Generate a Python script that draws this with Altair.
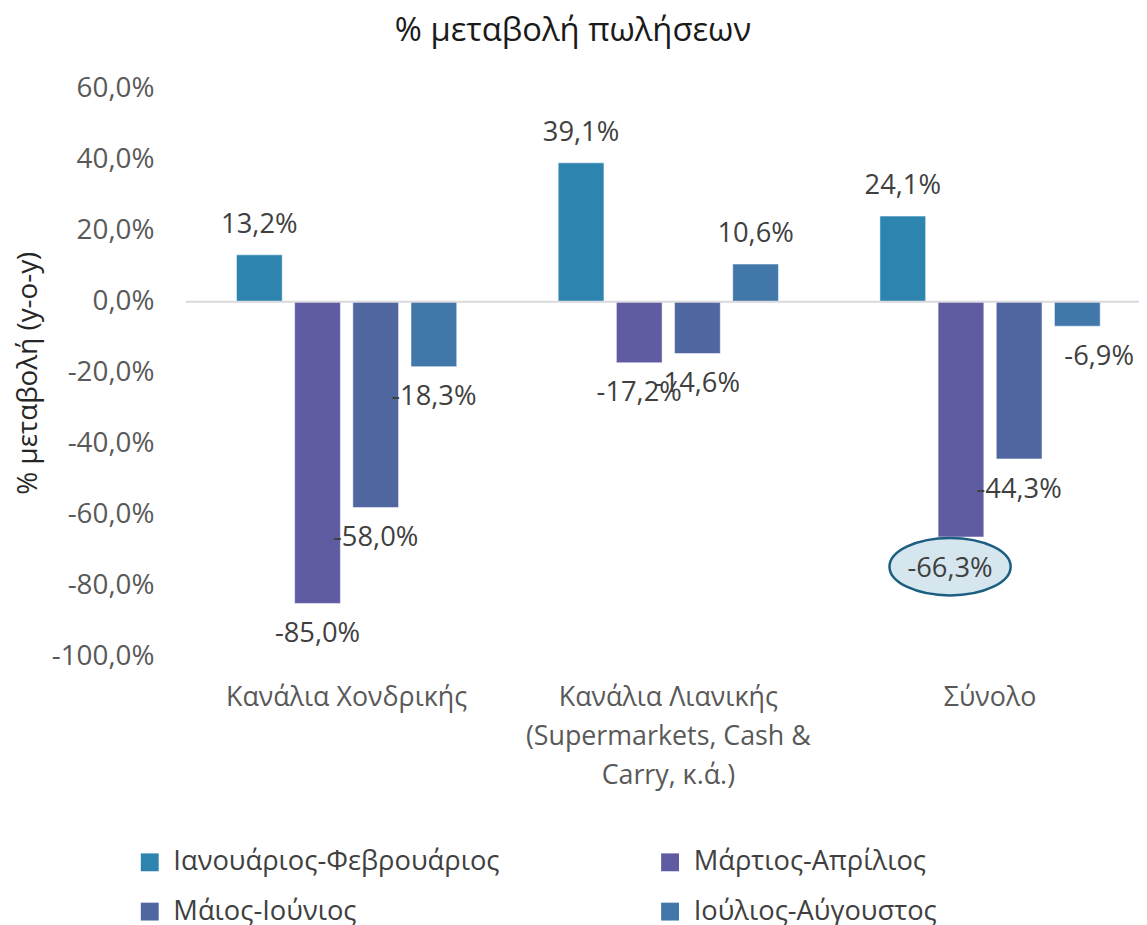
import altair as alt
import pandas as pd

groups = ["Κανάλια Χονδρικής",
          "Κανάλια Λιανικής\n(Supermarkets, Cash &\nCarry, κ.ά.)",
          "Σύνολο"]
periods = ["Ιανουάριος-Φεβρουάριος", "Μάρτιος-Απρίλιος", "Μάιος-Ιούνιος", "Ιούλιος-Αύγουστος"]
colors = ["#2C84AF", "#5F5BA3", "#5066A1", "#4277AA"]

v_wholesale = [13.2, -85.0, -58.0, -18.3]
v_retail = [39.1, -17.2, -14.6, 10.6]
v_total = [24.1, -66.3, -44.3, -6.9]

rows = []
for g, vals in zip(groups, [v_wholesale, v_retail, v_total]):
    for p, v in zip(periods, vals):
        rows.append({"group": g, "period": p, "value": v})
df = pd.DataFrame(rows)

FONT = "Open Sans"
fmt = "replace(replace(format(datum.value, '.1f'), '.', ','), '\u2212', '-') + '%'"

x_enc = alt.X("group:N", sort=groups, title=None,
              scale=alt.Scale(range=[0, 972], paddingInner=0, paddingOuter=0),
              axis=alt.Axis(labelExpr="split(datum.label, '\\n')", labelAngle=0,
                            labelFontSize=27, labelFont=FONT, labelColor="#595959",
                            labelPadding=28, labelLineHeight=39.5, labelBaseline="top",
                            labelLimit=600,
                            domain=False, ticks=False, grid=False))
xo_enc = alt.XOffset("period:N", sort=periods,
                     scale=alt.Scale(paddingInner=0.214, paddingOuter=0.872))
y_enc = alt.Y("value:Q", title="% μεταβολή (y-o-y)",
              scale=alt.Scale(domain=[-100, 60], nice=False),
              axis=alt.Axis(values=[-100, -80, -60, -40, -20, 0, 20, 40, 60],
                            labelExpr=fmt, labelFontSize=28, labelFont=FONT,
                            labelColor="#595959", labelPadding=32,
                            titleFontSize=28, titleFont=FONT, titleColor="#262626",
                            titleFontWeight="normal", titlePadding=9,
                            domain=False, ticks=False, grid=False))
color_enc = alt.Color("period:N", sort=periods, title=None,
                      scale=alt.Scale(domain=periods, range=colors),
                      legend=alt.Legend(orient="none", legendX=-50, legendY=765,
                                        direction="horizontal",
                                        columns=2, columnPadding=157, rowPadding=21,
                                        symbolType="square", symbolSize=324,
                                        symbolStrokeWidth=0, labelFontSize=27.5,
                                        labelFont=FONT, labelColor="#404040",
                                        labelOffset=10, labelLimit=600))

base = alt.Chart(df)

bars = base.mark_bar(stroke="white", strokeWidth=1, strokeOpacity=0.5).encode(
    x=x_enc, xOffset=xo_enc, y=y_enc, color=color_enc)

zero = alt.Chart(pd.DataFrame({"z": [0]})).mark_rule(color="#D9D9DE", strokeWidth=2).encode(
    y=alt.Y("z:Q"), x=alt.value(0), x2=alt.value(960))

hl = (alt.datum.group == "Σύνολο") & (alt.datum.period == "Μάρτιος-Απρίλιος")
edge = (alt.datum.group == "Σύνολο") & (alt.datum.period == "Ιούλιος-Αύγουστος")

ellipse_path = ("M-1.18,0.49 C-1.18,0.23 -0.73,0.015 -0.18,0.015 "
                "C0.37,0.015 0.82,0.23 0.82,0.49 "
                "C0.82,0.75 0.37,0.965 -0.18,0.965 "
                "C-0.73,0.965 -1.18,0.75 -1.18,0.49 Z")
ellipse = base.transform_filter(hl).mark_point(
    shape=ellipse_path, size=14884, filled=True, fill="#D5E6EF", fillOpacity=1,
    stroke="#1B5E80", strokeWidth=2.5, opacity=1).encode(x=x_enc, xOffset=xo_enc, y=y_enc)

text_common = dict(fontSize=27.5, font=FONT, color="#404040", baseline="middle", align="center")
lab_pos = base.transform_filter(alt.datum.value >= 0).mark_text(dy=-30, **text_common)
lab_neg = base.transform_filter((alt.datum.value < 0) & ~hl & ~edge).mark_text(dy=31, **text_common)
lab_hl = base.transform_filter(hl).mark_text(dy=32, dx=-11, **text_common)
lab_edge = base.transform_filter(edge).mark_text(dy=31, dx=22, **text_common)

labels = [l.encode(x=x_enc, xOffset=xo_enc, y=y_enc,
                   text=alt.Text("label:N")).transform_calculate(label=fmt)
          for l in (lab_pos, lab_neg, lab_hl, lab_edge)]

chart = alt.layer(bars, zero, ellipse, *labels).properties(
    width=960, height=572,
    background="white",
    autosize=alt.AutoSizeParams(type="none"),
    padding={"left": 179, "top": 78, "right": 0, "bottom": 267},
    title=alt.TitleParams("% μεταβολή πωλήσεων", fontSize=33, font=FONT,
                          fontWeight="normal", color="#1A1A1A", anchor="middle",
                          dx=-90, offset=27),
).configure_view(strokeWidth=0, stroke="transparent")

chart.save("out.html", embed_options={"renderer": "svg", "actions": False})
